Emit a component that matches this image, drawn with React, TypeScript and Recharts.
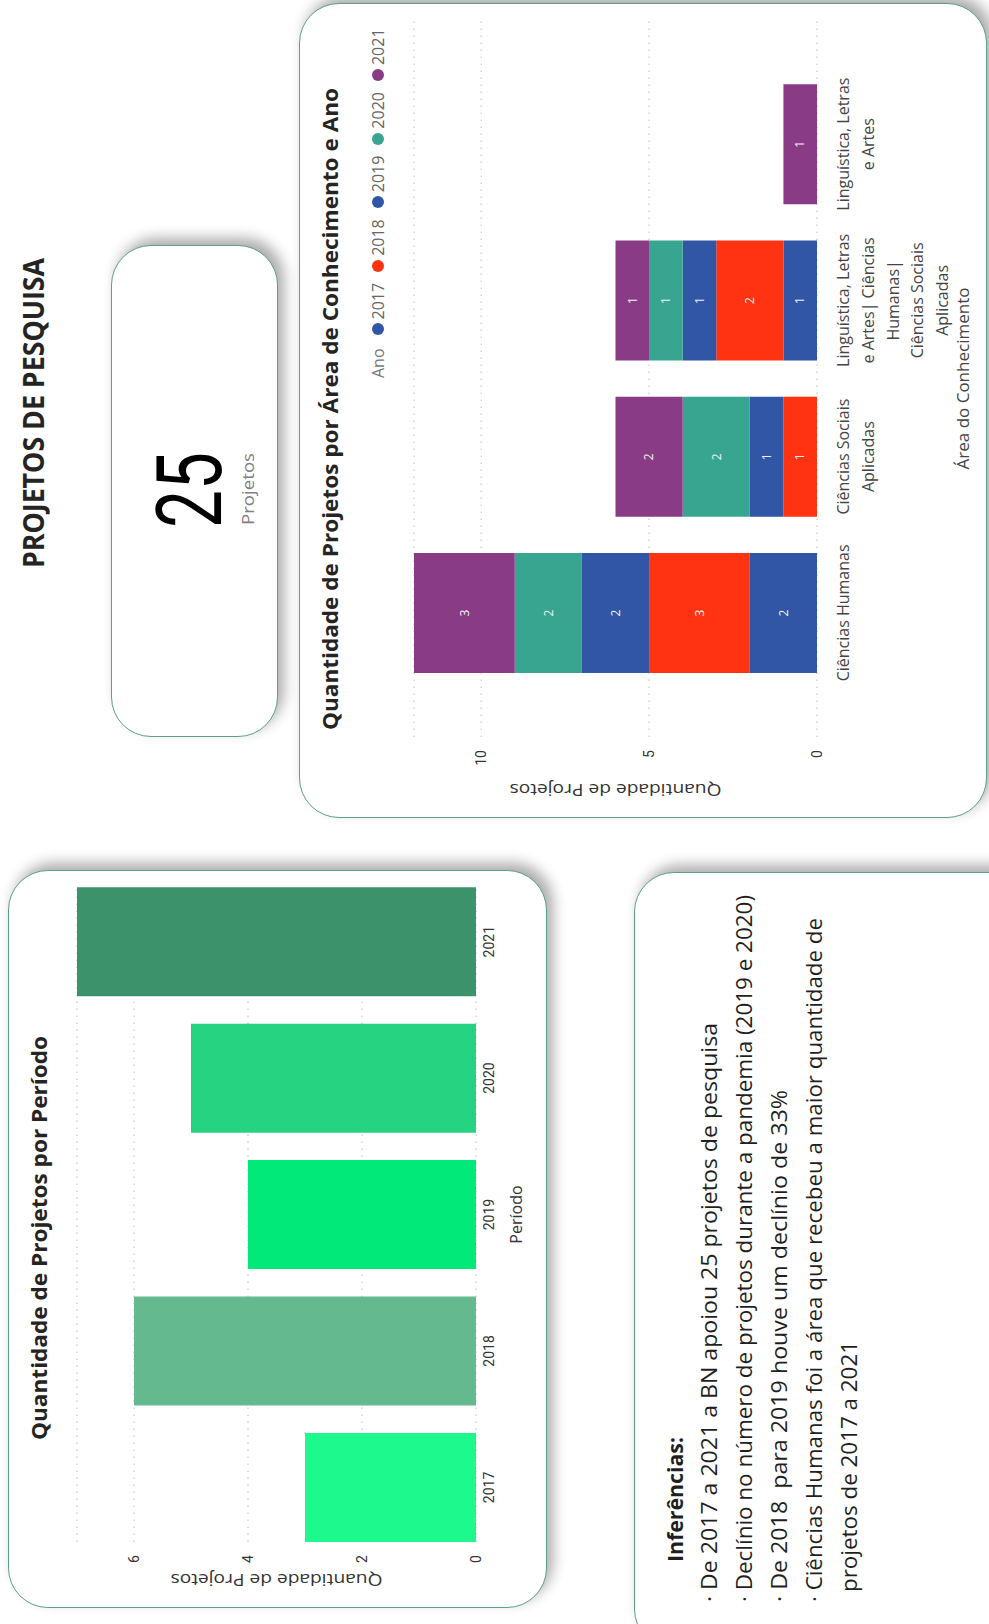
import React from "react";
import { BarChart, Bar, XAxis, YAxis, CartesianGrid, Cell, LabelList, Legend } from "recharts";

// Projetos por período
const periodos = ["2017", "2018", "2019", "2020", "2021"];
const projetosPorPeriodo = [3, 6, 4, 5, 7];
const periodoTicks = [0, 2, 4, 6];

// Projetos por área de conhecimento e ano
const areas = [
  "Ciências Humanas",
  "Ciências Sociais Aplicadas",
  "Linguística, Letras e Artes| Ciências Humanas| Ciências Sociais Aplicadas",
  "Linguística, Letras e Artes",
];
const areaTickLines = [
  ["Ciências Humanas"],
  ["Ciências Sociais", "Aplicadas"],
  ["Linguística, Letras", "e Artes| Ciências", "Humanas|", "Ciências Sociais", "Aplicadas"],
  ["Linguística, Letras", "e Artes"],
];
const anos = ["2017", "2018", "2019", "2020", "2021"];
const projetos2017 = [2, 0, 1, 0];
const projetos2018 = [3, 1, 2, 0];
const projetos2019 = [2, 1, 1, 0];
const projetos2020 = [2, 2, 1, 0];
const projetos2021 = [3, 2, 1, 1];
const areaTicks = [0, 5, 10];

const totalProjetos = 25;

const inferencias = [
  "· De 2017 a 2021 a BN apoiou 25 projetos de pesquisa",
  "· Declínio no número de projetos durante a pandemia (2019 e 2020)",
  "· De 2018  para 2019 houve um declínio de 33%",
  "· Ciências Humanas foi a área que recebeu a maior quantidade de",
  "projetos de 2017 a 2021",
];

// cores
const coresPeriodo = ["#1EF98E", "#64B98F", "#00E979", "#25D380", "#3C926A"];
const coresAno = ["#3156A6", "#FF3212", "#3156A6", "#37A590", "#893C85"];

const periodoData = periodos.map((p, i) => ({ periodo: p, projetos: projetosPorPeriodo[i] }));
const seriesPorAno = [projetos2017, projetos2018, projetos2019, projetos2020, projetos2021];
const areaData = areas.map((a, i) => {
  const row: Record<string, string | number> = { area: a };
  anos.forEach((ano, j) => {
    row["a" + ano] = seriesPorAno[j][i];
  });
  return row;
});

const FONT = "'Open Sans', 'Noto Sans', sans-serif";

function Card({ left, top, width, height }: { left: number; top: number; width: number; height: number }) {
  return (
    <div
      style={{
        position: "absolute",
        left,
        top,
        width,
        height,
        boxSizing: "border-box",
        background: "#fff",
        border: "1.5px solid #5E9E8F",
        borderRadius: 40,
        boxShadow: "7px 6px 14px rgba(0,0,0,0.33)",
      }}
    />
  );
}

// texto com largura fixa (o layout original usa fontes mais estreitas)
function FitText(p: { x: number; y: number; len: number; size: number; bold?: boolean; fill?: string; family?: string; children: string }) {
  return (
    <text
      x={p.x}
      y={p.y}
      fontSize={p.size}
      fontWeight={p.bold ? 700 : 400}
      fill={p.fill || "#252423"}
      fontFamily={p.family || FONT}
      textLength={p.len}
      lengthAdjust="spacingAndGlyphs"
      style={{ whiteSpace: "pre" }}
    >
      {p.children}
    </text>
  );
}

const axisTitle = (text: string, cx: number, len: number) => (props: any) => {
  const vb = props.viewBox || {};
  const x = (vb.x || 0) + cx;
  const yc = (vb.y || 0) + (vb.height || 0) / 2;
  return (
    <text
      x={x - len / 2}
      y={yc}
      transform={`rotate(-90 ${x} ${yc})`}
      dominantBaseline="central"
      fontSize={16}
      fill="#333"
      textLength={len}
      lengthAdjust="spacingAndGlyphs"
    >
      {text}
    </text>
  );
};

const AreaTick = (props: any) => {
  const { x, y, payload } = props;
  const idx = areas.indexOf(payload.value);
  const lines = areaTickLines[idx] || [payload.value];
  return (
    <text x={x} y={y} textAnchor="middle" fill="#444" fontSize={16} fontFamily={FONT}>
      {lines.map((l, i) => (
        <tspan key={i} x={x} dy={i === 0 ? 32 : 24.75}>
          {l}
        </tspan>
      ))}
    </text>
  );
};

const renderLegend = (props: any) => {
  const payload = props.payload || [];
  return (
    <div style={{ display: "flex", alignItems: "center", fontSize: 16, fontFamily: FONT, color: "#666", whiteSpace: "nowrap", lineHeight: "20px" }}>
      <span style={{ marginRight: 13, color: "#777" }}>Ano</span>
      {payload.map((e: any) => (
        <span key={e.value} style={{ display: "flex", alignItems: "center", marginRight: 11 }}>
          <span style={{ width: 12, height: 12, borderRadius: 6, background: e.color, marginRight: 4 }} />
          {e.value}
        </span>
      ))}
    </div>
  );
};

export default function App() {
  return (
    <div style={{ position: "absolute", left: 0, top: 0, width: 989, height: 1624, overflow: "hidden", background: "#fff" }}>
      <div
        style={{
          position: "absolute",
          left: 0,
          top: 0,
          width: 1624,
          height: 989,
          transformOrigin: "0 0",
          transform: "translate(0px, 1624px) rotate(-90deg)",
          fontFamily: FONT,
        }}
      >
        <Card left={16} top={8} width={738} height={539} />
        <Card left={-25} top={634} width={777} height={400} />
        <Card left={887} top={111} width={492} height={167} />
        <Card left={806} top={299} width={815} height={688} />

        {/* Quantidade de Projetos por Período */}
        <div style={{ position: "absolute", left: 16, top: 60 }}>
          <BarChart width={731} height={471} data={periodoData} margin={{ top: 17, right: 10, bottom: 0, left: 0 }} barCategoryGap={13.6}>
            <CartesianGrid vertical={false} stroke="#bdbdbd" strokeDasharray="1.5 5.5" />
            <XAxis
              dataKey="periodo"
              axisLine={false}
              tickLine={false}
              tickSize={0}
              tickMargin={8}
              height={55}
              padding={{ left: -13.6, right: -13.6 }}
              tick={{ fontSize: 14, fill: "#333", fontFamily: "Roboto" }}
              label={{ value: "Período", position: "insideBottom", offset: 9, fontSize: 16, fill: "#333" }}
            />
            <YAxis
              type="number"
              domain={[0, 7]}
              ticks={periodoTicks}
              width={66}
              axisLine={false}
              tickLine={false}
              tickSize={0}
              tickMargin={13}
              tick={{ fontSize: 14, fill: "#333", fontFamily: "Roboto" }}
              label={axisTitle("Quantidade de Projetos", 28, 212)}
            />
            <Bar dataKey="projetos" isAnimationActive={false}>
              {periodoData.map((d, i) => (
                <Cell key={d.periodo} fill={coresPeriodo[i]} />
              ))}
            </Bar>
          </BarChart>
        </div>

        {/* Quantidade de Projetos por Área de Conhecimento e Ano */}
        <div style={{ position: "absolute", left: 806, top: 395 }}>
          <BarChart width={815} height={590} data={areaData} margin={{ top: 19, right: 17, bottom: 0, left: 0 }} barCategoryGap={18}>
            <CartesianGrid vertical={false} stroke="#bdbdbd" strokeDasharray="1.5 5.5" />
            <XAxis
              dataKey="area"
              axisLine={false}
              tickLine={false}
              tickSize={0}
              tickMargin={0}
              height={168}
              interval={0}
              padding={{ left: 46, right: 46 }}
              tick={(p: any) => <AreaTick {...p} />}
              label={{ value: "Área do Conhecimento", position: "insideBottom", offset: 16, fontSize: 17, fill: "#444" }}
            />
            <YAxis
              type="number"
              domain={[0, 12]}
              ticks={areaTicks}
              width={81}
              axisLine={false}
              tickLine={false}
              tickSize={0}
              tickMargin={13}
              tick={{ fontSize: 14, fill: "#333", fontFamily: "Roboto" }}
              label={axisTitle("Quantidade de Projetos", 28, 212)}
            />
            <Legend
              layout="horizontal"
              verticalAlign="middle"
              align="center"
              content={renderLegend}
              wrapperStyle={{ left: 440, top: -27, width: 380, height: 20 }}
            />
            {anos.map((ano, j) => (
              <Bar key={ano} dataKey={"a" + ano} name={ano} stackId="ano" fill={coresAno[j]} isAnimationActive={false}>
                <LabelList
                  dataKey={"a" + ano}
                  position="center"
                  fill="#f0f0f0"
                  fontSize={12}
                  formatter={(v: any) => (v ? v : "")}
                />
              </Bar>
            ))}
          </BarChart>
        </div>

        <svg width={1624} height={989} style={{ position: "absolute", left: 0, top: 0, pointerEvents: "none", overflow: "visible" }}>
          <FitText x={1056} y={44} len={310} size={29} bold>PROJETOS DE PESQUISA</FitText>
          <FitText x={184} y={46.5} len={404} size={22} bold>Quantidade de Projetos por Período</FitText>
          <FitText x={894} y={338} len={642} size={22} bold>Quantidade de Projetos por Área de Conhecimento e Ano</FitText>
          <FitText x={1096} y={221} len={76} size={91} fill="#000" family="Roboto">{String(totalProjetos)}</FitText>
          <FitText x={1099} y={254} len={72} size={17} fill="#808080">Projetos</FitText>

          <FitText x={62} y={683} len={125} size={21} bold fill="#1f1f1f">Inferências:</FitText>
          <FitText x={22} y={717} len={579} size={22} fill="#1f1f1f">{inferencias[0]}</FitText>
          <FitText x={22} y={752} len={707} size={22} fill="#1f1f1f">{inferencias[1]}</FitText>
          <FitText x={22} y={787} len={512} size={22} fill="#1f1f1f">{inferencias[2]}</FitText>
          <FitText x={22} y={822} len={684} size={22} fill="#1f1f1f">{inferencias[3]}</FitText>
          <FitText x={32} y={857} len={251} size={22} fill="#1f1f1f">{inferencias[4]}</FitText>
        </svg>
      </div>
    </div>
  );
}
